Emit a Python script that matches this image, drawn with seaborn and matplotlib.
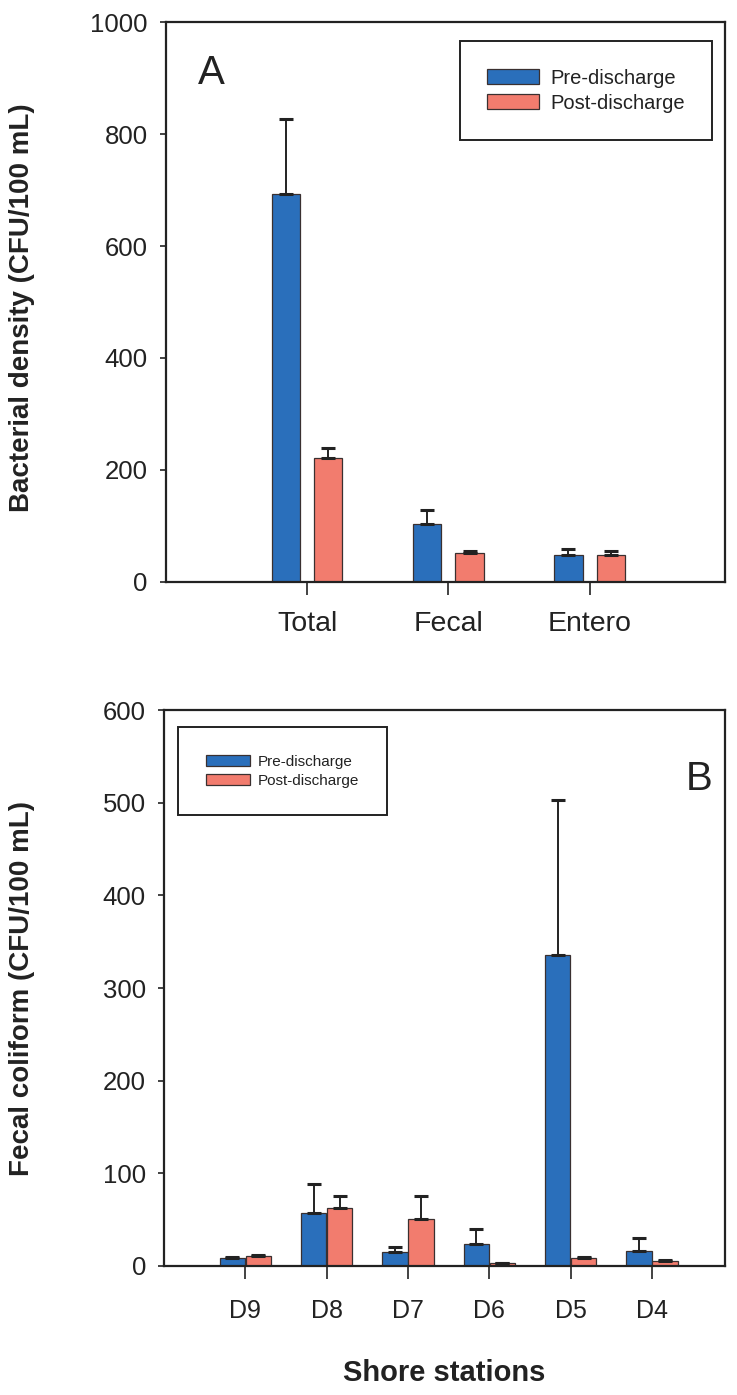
import numpy as np
import pandas as pd
import seaborn as sns
import matplotlib
matplotlib.use("Agg")
import matplotlib.pyplot as plt

# ---------------- data ----------------
groups = ["Pre-discharge", "Post-discharge"]

cats_A = ["Total", "Fecal", "Entero"]
pre_A = [693, 104, 47]
pre_A_err = [134, 24, 12]
post_A = [221, 52, 47]
post_A_err = [18, 3, 8]

stations_B = ["D9", "D8", "D7", "D6", "D5", "D4"]
pre_B = [9, 57, 15, 24, 336, 16]
pre_B_err = [1, 31, 6, 16, 167, 14]
post_B = [11, 63, 51, 3, 9, 5]
post_B_err = [1, 13, 25, 0, 1, 1]

yticks_A = [0, 200, 400, 600, 800, 1000]
yticks_B = [0, 100, 200, 300, 400, 500, 600]

colors = {"Pre-discharge": "#2a6fbb", "Post-discharge": "#f27c6e"}

sns.set_theme(style="white")
plt.rcParams["font.family"] = ["Liberation Sans", "DejaVu Sans"]
INK = "#222222"


def long_df(cats, pre, post):
    return pd.DataFrame({
        "cat": list(cats) * 2,
        "val": list(pre) + list(post),
        "grp": [groups[0]] * len(cats) + [groups[1]] * len(cats),
    })


def draw(ax, cats, pre, pre_err, post, post_err, width, gap, xsize, xpad):
    df = long_df(cats, pre, post)
    sns.barplot(data=df, x="cat", y="val", hue="grp", hue_order=groups,
                palette=colors, saturation=1, width=width, gap=gap,
                errorbar=None, edgecolor="#3a3030", linewidth=0.9, ax=ax,
                legend=True)
    for cont, vals, errs in zip(ax.containers, [pre, post], [pre_err, post_err]):
        xs = [p.get_x() + p.get_width() / 2 for p in cont.patches]
        ax.errorbar(xs, vals, yerr=[np.zeros(len(errs)), errs], fmt="none",
                    ecolor=INK, elinewidth=1.4, capsize=5, capthick=2.2,
                    zorder=1)
    for s in ax.spines.values():
        s.set_visible(True)
        s.set_color(INK)
        s.set_linewidth(1.6)
    ax.tick_params(axis="y", direction="out", length=4, width=1.2, left=True,
                   labelsize=18.5, colors=INK, pad=9)
    ax.tick_params(axis="x", direction="out", length=9, width=1.2, bottom=True,
                   labelsize=xsize, colors=INK, pad=xpad)


def style_legend(ax, anchor, loc, fs, hl, bp):
    h, l = ax.get_legend_handles_labels()
    leg = ax.legend(h, l, loc=loc, bbox_to_anchor=anchor, fontsize=fs,
                    frameon=True, fancybox=False, framealpha=1,
                    edgecolor=INK, borderpad=bp, handlelength=hl,
                    handleheight=0.8, handletextpad=0.55, labelspacing=0.3,
                    borderaxespad=0)
    leg.get_frame().set_linewidth(1.4)
    for t in leg.get_texts():
        t.set_color(INK)
    return leg


fig = plt.figure(figsize=(7.37, 13.95), dpi=100)
axA = fig.add_axes([0.225, 0.583, 0.759, 0.401])
axB = fig.add_axes([0.2225, 0.0925, 0.7615, 0.3985])

draw(axA, cats_A, pre_A, pre_A_err, post_A, post_A_err, 0.6, 1 / 3, 20.5, 12)
axA.set_ylim(0, 1000)
axA.set_yticks(yticks_A)
axA.set_xlim(-1, 2.96)
axA.set_xlabel("")
axA.set_ylabel("Bacterial density (CFU/100 mL)", fontsize=20, fontweight="bold",
               color=INK)
axA.yaxis.set_label_coords(-0.234, 0.49)
axA.text(0.058, 0.889, "A", transform=axA.transAxes, fontsize=29,
         color=INK, va="baseline", ha="left")
style_legend(axA, (0.977, 0.966), "upper right", 14.5, 2.6, 1.35)

draw(axB, stations_B, pre_B, pre_B_err, post_B, post_B_err, 0.64, 0.03, 18, 15)
axB.set_ylim(0, 600)
axB.set_yticks(yticks_B)
axB.set_xlim(-1, 5.9)
axB.set_xlabel("Shore stations", fontsize=21, fontweight="bold", color=INK,
               labelpad=26)
axB.set_ylabel("Fecal coliform (CFU/100 mL)", fontsize=20, fontweight="bold",
               color=INK)
axB.yaxis.set_label_coords(-0.23, 0.5)
axB.text(0.93, 0.856, "B", transform=axB.transAxes, fontsize=29,
         color=INK, va="baseline", ha="left")
style_legend(axB, (0.025, 0.969), "upper left", 11, 2.9, 1.8)

fig.savefig("out.png", dpi=100, facecolor="white")
